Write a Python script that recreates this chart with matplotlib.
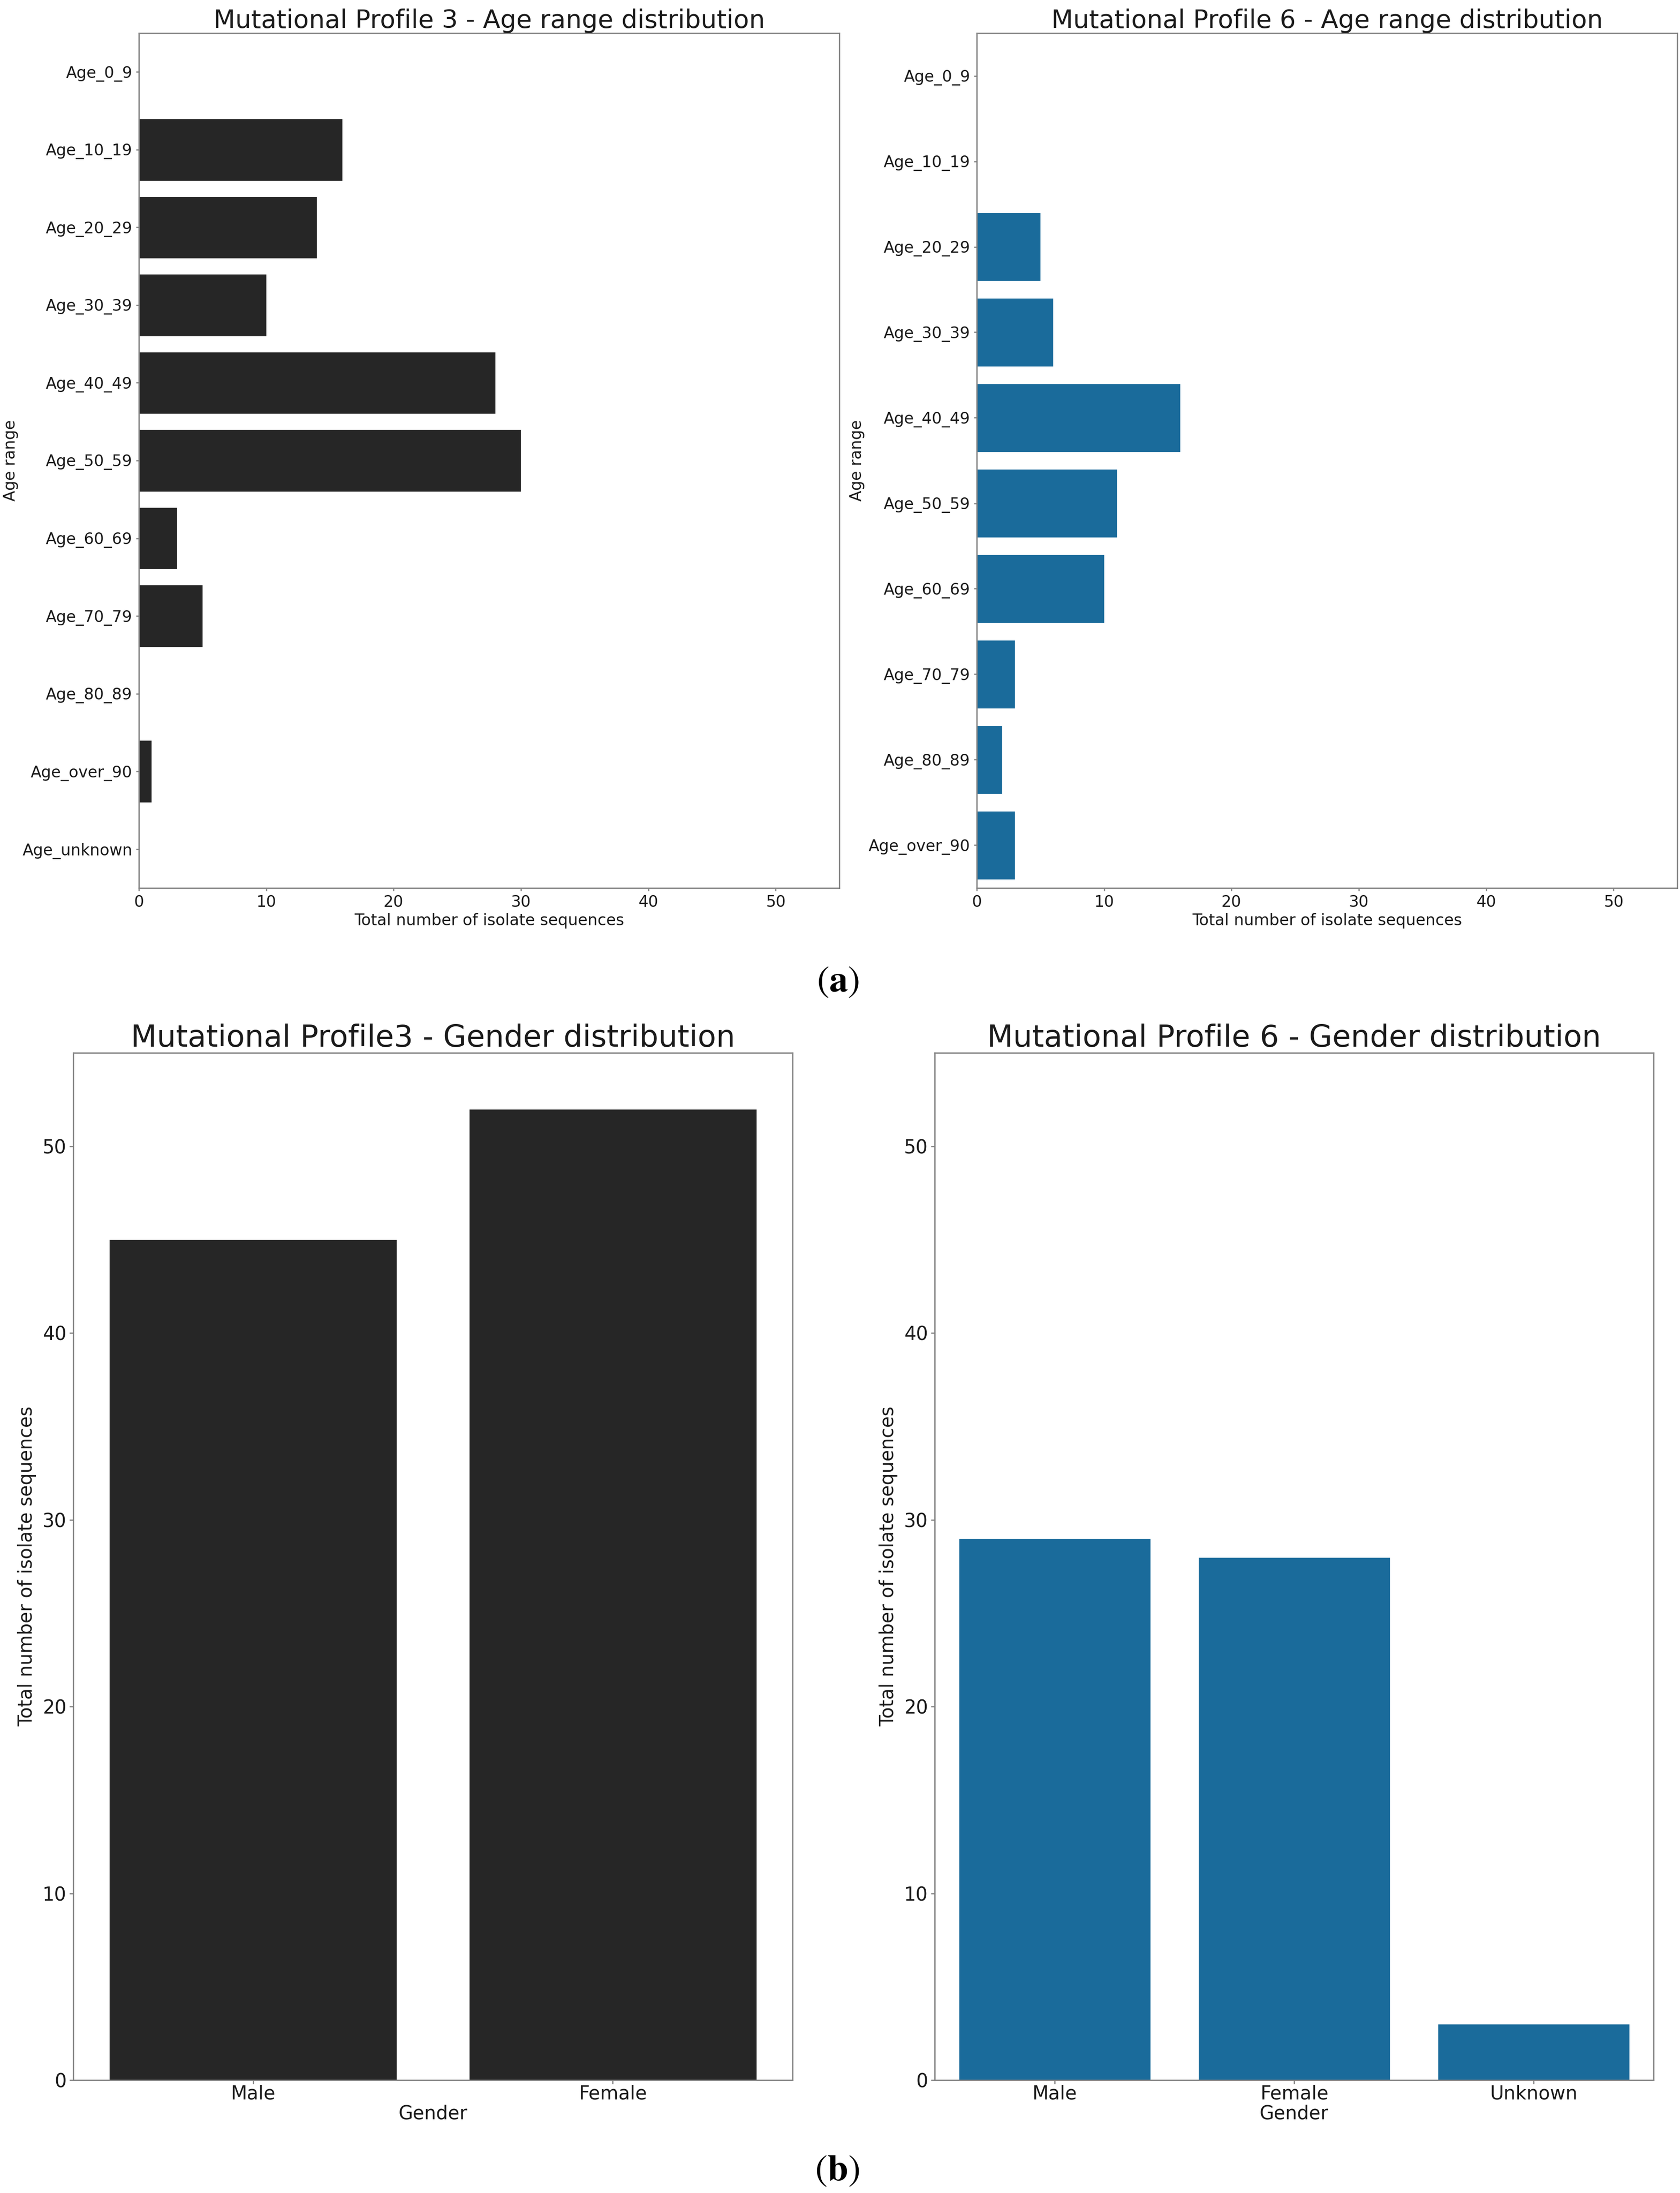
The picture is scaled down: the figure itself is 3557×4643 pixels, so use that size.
import matplotlib

matplotlib.use("Agg")
import matplotlib.pyplot as plt
import numpy as np

W, H = 3557, 4643
DPI = 300

DARK = "#262626"
BLUE = "#1a6b9b"
SPINE = "#808080"

age_labels_p3 = ["Age_0_9", "Age_10_19", "Age_20_29", "Age_30_39", "Age_40_49",
                 "Age_50_59", "Age_60_69", "Age_70_79", "Age_80_89", "Age_over_90",
                 "Age_unknown"]
age_counts_p3 = [0, 16, 14, 10, 28, 30, 3, 5, 0, 1, 0]

age_labels_p6 = ["Age_0_9", "Age_10_19", "Age_20_29", "Age_30_39", "Age_40_49",
                 "Age_50_59", "Age_60_69", "Age_70_79", "Age_80_89", "Age_over_90"]
age_counts_p6 = [0, 0, 5, 6, 16, 11, 10, 3, 2, 3]

gender_labels_p3 = ["Male", "Female"]
gender_counts_p3 = [45, 52]

gender_labels_p6 = ["Male", "Female", "Unknown"]
gender_counts_p6 = [29, 28, 3]

plt.rcParams["font.family"] = "DejaVu Sans"
plt.rcParams["mathtext.fontset"] = "stix"


def px_axes(fig, left, top, right, bottom):
    return fig.add_axes([left / W, 1 - bottom / H, (right - left) / W, (bottom - top) / H])


def style_spines(ax):
    for s in ax.spines.values():
        s.set_color(SPINE)
        s.set_linewidth(0.65)


def age_panel(ax, labels, counts, color, title):
    y = np.arange(len(labels))
    ax.barh(y, counts, height=0.8, color=color, edgecolor="white", linewidth=0.3)
    ax.set_yticks(y)
    ax.set_yticklabels(labels)
    ax.set_ylim(len(labels) - 0.5, -0.5)
    ax.set_xlim(0, 55)
    ax.set_xticks([0, 10, 20, 30, 40, 50])
    ax.tick_params(labelsize=8, length=1.5, width=0.6, color=SPINE, pad=1.8,
                   labelcolor="#1a1a1a")
    ax.set_xlabel("Total number of isolate sequences", fontsize=8, labelpad=1.5,
                  color="#1a1a1a")
    ax.set_ylabel("Age range", fontsize=8, labelpad=2, color="#1a1a1a")
    ax.set_title(title, fontsize=12.8, pad=2.4, color="#1a1a1a")
    style_spines(ax)


def gender_panel(ax, labels, counts, color, title):
    x = np.arange(len(labels))
    ax.bar(x, counts, width=0.8, color=color, edgecolor="white", linewidth=0.3)
    ax.set_xticks(x)
    ax.set_xticklabels(labels)
    ax.set_xlim(-0.5, len(labels) - 0.5)
    ax.set_ylim(0, 55)
    ax.set_yticks([0, 10, 20, 30, 40, 50])
    ax.tick_params(labelsize=9.6, length=2, width=0.6, color=SPINE, pad=1.5,
                   labelcolor="#1a1a1a")
    ax.tick_params(axis="x", pad=0.3)
    ax.set_xlabel("Gender", fontsize=9.5, labelpad=0.5, color="#1a1a1a")
    ax.set_ylabel("Total number of isolate sequences", fontsize=9.5, labelpad=3,
                  color="#1a1a1a")
    ax.set_title(title, fontsize=15.3, pad=2.8, color="#1a1a1a")
    style_spines(ax)


fig = plt.figure(figsize=(W / DPI, H / DPI), dpi=DPI)

ax1 = px_axes(fig, 294, 70, 1777, 1880)
age_panel(ax1, age_labels_p3, age_counts_p3, DARK,
          "Mutational Profile 3 - Age range distribution")

ax2 = px_axes(fig, 2068, 70, 3551, 1880)
age_panel(ax2, age_labels_p6, age_counts_p6, BLUE,
          "Mutational Profile 6 - Age range distribution")

ax3 = px_axes(fig, 155, 2229, 1678, 4404)
gender_panel(ax3, gender_labels_p3, gender_counts_p3, DARK,
             "Mutational Profile3 - Gender distribution")

ax4 = px_axes(fig, 1979, 2229, 3501, 4404)
gender_panel(ax4, gender_labels_p6, gender_counts_p6, BLUE,
             "Mutational Profile 6 - Gender distribution")

fig.text(1774 / W, 1 - 2077 / H, r"$(\mathbf{a})$", fontsize=19,
         ha="center", va="center")
fig.text(1772 / W, 1 - 4594 / H, r"$(\mathbf{b})$", fontsize=19,
         ha="center", va="center")

fig.savefig("out.png", dpi=DPI)
plt.close(fig)
